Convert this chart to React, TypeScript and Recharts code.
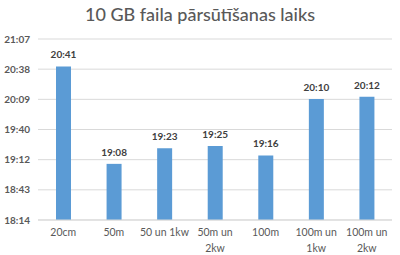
import { BarChart, Bar, XAxis, YAxis, CartesianGrid, LabelList } from "recharts";

// categories (with manual line breaks like the original axis)
const categories = ["20cm", "50m", "50 un 1kw", "50m un\n2kw", "100m", "100m un\n1kw", "100m un\n2kw"];
// transfer end time
const times = ["20:41", "19:08", "19:23", "19:25", "19:16", "20:10", "20:12"];
// y axis ticks are fractions of a day (Excel time format)
const yTicks = [0.76, 0.78, 0.8, 0.82, 0.84, 0.86, 0.88];

const toDay = (t: string) => {
  const [h, m] = t.split(":").map(Number);
  return (h * 60 + m) / 1440;
};

const fmt = (v: number) => {
  const mins = Math.floor(v * 1440 + 1e-6);
  const h = Math.floor(mins / 60);
  const m = mins % 60;
  return `${h}:${m < 10 ? "0" : ""}${m}`;
};

const data = categories.map((c, i) => ({ name: c, value: toDay(times[i]), label: times[i] }));

const CatTick = ({ x, y, payload }: any) => {
  const lines = String(payload.value).split("\n");
  return (
    <text x={x} y={y} textAnchor="middle" fill="#595959" fontSize={10.5} fontFamily="Lato, sans-serif">
      {lines.map((l, i) => (
        <tspan key={i} x={x} dy={i === 0 ? "0.7em" : "1.45em"}>
          {l}
        </tspan>
      ))}
    </text>
  );
};

export default function App() {
  return (
    <div style={{ position: "absolute", left: 0, top: 0, width: 400, height: 255, background: "#fff" }}>
      <div
        style={{
          position: "absolute",
          top: 3,
          width: 400,
          textAlign: "center",
          fontFamily: "Lato, sans-serif",
          fontSize: 18,
          fontWeight: 500,
          color: "#595959",
        }}
      >
        10 GB faila pārsūtīšanas laiks
      </div>
      <BarChart width={400} height={255} data={data} margin={{ top: 39, right: 8, bottom: 0, left: 0 }}>
        <CartesianGrid vertical={false} stroke="#d9d9d9" />
        <XAxis
          dataKey="name"
          height={35}
          interval={0}
          tick={<CatTick />}
          tickLine={false}
          tickSize={0}
          tickMargin={9}
          axisLine={{ stroke: "#d9d9d9" }}
        />
        <YAxis
          width={38}
          domain={[0.76, 0.88]}
          ticks={yTicks}
          tickFormatter={fmt}
          axisLine={false}
          tickLine={false}
          tickSize={0}
          tickMargin={8}
          tick={{ fill: "#595959", fontSize: 10, fontFamily: "Lato, sans-serif", fontWeight: 700 }}
          allowDataOverflow
        />
        <Bar dataKey="value" fill="#5b9bd5" barSize={15} isAnimationActive={false}>
          <LabelList
            dataKey="label"
            position="top"
            offset={8}
            fill="#404040"
            fontSize={10}
            fontWeight={700}
            fontFamily="Lato, sans-serif"
          />
        </Bar>
      </BarChart>
    </div>
  );
}
